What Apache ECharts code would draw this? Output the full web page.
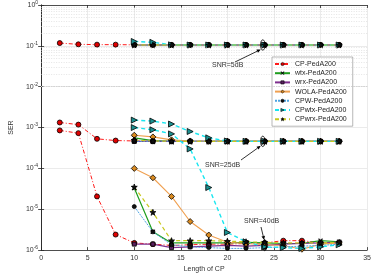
<!DOCTYPE html>
<html><head><meta charset="utf-8">
<script src="https://cdn.jsdelivr.net/npm/echarts@6/dist/echarts.min.js"></script>
<style>html,body{margin:0;padding:0;background:#fff}#c{width:374px;height:278px}</style>
</head><body><div id="c"></div>
<script>
// ---- data ----
const xCP = [2,4,6,8,10,12,14,16,18,20,22,24,26,28,30,32];
const x10 = [10,12,14,16,18,20,22,24,26,28,30,32];
const xTicks = [0,5,10,15,20,25,30,35];
const yTicks = [1e-6,1e-5,1e-4,1e-3,1e-2,1e-1,1];
const seriesNames = ['CP-PedA200','wtx-PedA200','wrx-PedA200','WOLA-PedA200','CPW-PedA200','CPwtx-PedA200','CPwrx-PedA200'];
const snrLabels = ['SNR=5dB','SNR=25dB','SNR=40dB'];

// SNR = 5 dB
const cp5    = [0.117,0.109,0.107,0.107,0.106,0.105,0.105,0.105,0.105,0.105,0.105,0.105,0.105,0.105,0.105,0.105];
const wtx5   = [0.105,0.105,0.105,0.105,0.105,0.105,0.105,0.105,0.105,0.105,0.105,0.105];
const wrx5   = [0.105,0.105,0.105,0.105,0.105,0.105,0.105,0.105,0.105,0.105,0.105,0.105];
const wola5  = [0.106,0.105,0.105,0.105,0.105,0.105,0.105,0.105,0.105,0.105,0.105,0.105];
const cpw5   = [0.105,0.105,0.105,0.105,0.105,0.105,0.105,0.105,0.105,0.105,0.105,0.105];
const cpwtx5 = [0.128,0.122,0.106,0.105,0.105,0.105,0.105,0.105,0.105,0.105,0.105,0.105];
const cpwrx5 = [0.105,0.105,0.105,0.105,0.105,0.105,0.105,0.105,0.105,0.105,0.105,0.105];

// SNR = 25 dB
const cp25    = [1.33e-3,1.18e-3,5.3e-4,4.8e-4,4.7e-4,4.6e-4,4.6e-4,4.6e-4,4.6e-4,4.6e-4,4.6e-4,4.6e-4,4.6e-4,4.6e-4,4.6e-4,4.6e-4];
const wtx25   = [5.6e-4,4.8e-4,4.6e-4,4.6e-4,4.6e-4,4.6e-4,4.6e-4,4.6e-4,4.6e-4,4.6e-4,4.6e-4,4.6e-4];
const wrx25   = [4.6e-4,4.6e-4,4.6e-4,4.6e-4,4.6e-4,4.6e-4,4.6e-4,4.6e-4,4.6e-4,4.6e-4,4.6e-4,4.6e-4];
const wola25  = [6.5e-4,5.9e-4,5.0e-4,4.7e-4,4.6e-4,4.6e-4,4.6e-4,4.6e-4,4.6e-4,4.6e-4,4.6e-4,4.6e-4];
const cpw25   = [4.6e-4,4.6e-4,4.6e-4,4.6e-4,4.6e-4,4.6e-4,4.6e-4,4.6e-4,4.6e-4,4.6e-4,4.6e-4,4.6e-4];
const cpwtx25 = [1.52e-3,1.44e-3,1.22e-3,8.0e-4,5.6e-4,4.7e-4,4.6e-4,4.6e-4,4.6e-4,4.6e-4,4.6e-4,4.6e-4];
const cpwrx25 = [4.9e-4,4.7e-4,4.6e-4,4.6e-4,4.6e-4,4.6e-4,4.6e-4,4.6e-4,4.6e-4,4.6e-4,4.6e-4,4.6e-4];

// SNR = 40 dB
const cp40    = [8.5e-4,7.3e-4,2.06e-5,2.4e-6,1.5e-6,1.4e-6,1.3e-6,1.35e-6,1.4e-6,1.4e-6,1.45e-6,1.5e-6,1.7e-6,1.7e-6,1.5e-6,1.5e-6];
const wtx40   = [3.3e-5,2.8e-6,1.5e-6,1.5e-6,1.5e-6,1.5e-6,1.55e-6,1.5e-6,1.45e-6,1.45e-6,1.7e-6,1.6e-6];
const wrx40   = [1.4e-6,1.4e-6,1.15e-6,1.2e-6,1.25e-6,1.3e-6,1.25e-6,1.3e-6,1.4e-6,1.45e-6,1.5e-6,1.55e-6];
const wola40  = [1.0e-4,5.9e-5,2.06e-5,5.0e-6,2.34e-6,1.55e-6,1.45e-6,1.35e-6,1.3e-6,1.05e-6,1.4e-6,1.5e-6];
const cpw40   = [1.16e-5,2.8e-6,1.35e-6,1.2e-6,1.15e-6,1.1e-6,1.1e-6,1.15e-6,1.2e-6,1.25e-6,1.3e-6,1.4e-6];
const cpwtx40 = [1.0e-3,8.8e-4,7.0e-4,3.0e-4,3.4e-5,2.7e-6,1.6e-6,1.2e-6,1.15e-6,1.1e-6,1.2e-6,1.35e-6];
const cpwrx40 = [3.5e-5,8.4e-6,1.7e-6,1.7e-6,1.7e-6,1.65e-6,1.6e-6,1.55e-6,1.5e-6,1.5e-6,1.5e-6,1.55e-6];

const minorGrid = [];
for (let e = -6; e < 0; e++) for (let m = 2; m <= 9; m++) minorGrid.push(m * Math.pow(10, e));

// ---- styles ----
const STAR = 'path://M5,0L6.2,3.6L10,3.6L6.9,5.9L8.1,9.5L5,7.3L1.9,9.5L3.1,5.9L0,3.6L3.8,3.6Z';
const CROSS = 'path://M0,1L1,0L5,4L9,0L10,1L6,5L10,9L9,10L5,6L1,10L0,9L4,5Z';
const TRI = 'path://M0,0L10,5L0,10Z';
const styles = [
  {color:'#ff1a1a', type:[4,2,1,2], width:1, symbol:'circle', size:5, fill:'#e00000'},
  {color:'#1e9e1e', type:'solid', width:1.2, symbol:CROSS, size:4, fill:'#111'},
  {color:'#7e2f8e', type:'solid', width:1.2, symbol:'rect', size:4, fill:'#5a2060'},
  {color:'#f0a050', type:'solid', width:1.1, symbol:'diamond', size:6, fill:'#d98a20'},
  {color:'#4da3e0', type:[2,1], width:1, symbol:'circle', size:4, fill:'#111'},
  {color:'#19e6f0', type:[4,3], width:1.4, symbol:TRI, size:6, fill:'#1a9090'},
  {color:'#c8c81e', type:[4,3], width:1.2, symbol:STAR, size:6, fill:'#111'}
];
const groups = [
  [cp5,wtx5,wrx5,wola5,cpw5,cpwtx5,cpwrx5],
  [cp25,wtx25,wrx25,wola25,cpw25,cpwtx25,cpwrx25],
  [cp40,wtx40,wrx40,wola40,cpw40,cpwtx40,cpwrx40]
];

const series = [];
series.push({
  type:'line', data:[], silent:true, xAxisIndex:0, yAxisIndex:0,
  markLine:{silent:true, symbol:'none', label:{show:false}, animation:false,
    lineStyle:{color:'#d4d4d4', type:[1,1.5], width:0.6},
    data: minorGrid.map(v => ({yAxis:v}))}
});
groups.forEach(g => {
  g.forEach((arr, i) => {
    const st = styles[i];
    const xs = (i === 0) ? xCP : x10;
    series.push({
      name: seriesNames[i], type:'line', xAxisIndex:0, yAxisIndex:0,
      data: arr.map((v, k) => [xs[k], v]),
      symbol: st.symbol, symbolSize: st.size, showAllSymbol:true,
      lineStyle:{color:st.color, type:st.type, width:st.width},
      itemStyle:{color:st.fill, borderColor:'#000', borderWidth:0.8},
      animation:false, z: 3
    });
  });
});

function logLabel(v) {
  const e = Math.round(Math.log10(v));
  return '{b|10}{s|' + e + '}';
}
const axisLineStyle = {color:'#262626', width:0.8};
const labelColor = '#333';
const tf = 'Liberation Sans, Arial, sans-serif';

const chart = echarts.init(document.getElementById('c'), null, {renderer:'canvas'});
chart.setOption({
  animation:false,
  backgroundColor:'#fff',
  grid:{left:24, right:5, top:4, bottom:20, containLabel:false},
  legend:{
    data: seriesNames.map(n => ({name:n, itemStyle:{borderWidth:0.6}})),
    orient:'vertical', left:272, top:57,
    itemWidth:15, itemHeight:4, itemGap:1.2,
    padding:[3,6,3,2],
    backgroundColor:'#fff', borderColor:'#999', borderWidth:0.7,
    textStyle:{fontSize:7, lineHeight:8, color:'#222', fontFamily:tf}
  },
  xAxis:[{
    type:'value', min:xTicks[0], max:xTicks[xTicks.length-1], interval:5,
    name:'Length of CP', nameLocation:'middle', nameGap:13,
    nameTextStyle:{fontSize:7, color:labelColor, fontFamily:tf},
    axisLine:{show:true, lineStyle:axisLineStyle},
    axisTick:{show:true, inside:true, length:3, lineStyle:axisLineStyle},
    axisLabel:{fontSize:7, color:labelColor, margin:4, fontFamily:tf},
    splitLine:{show:true, lineStyle:{color:'#e3e3e3', width:0.7}}
  },{
    type:'value', min:0, max:35, interval:5, position:'top',
    axisLine:{show:true, lineStyle:axisLineStyle},
    axisTick:{show:true, inside:true, length:3, lineStyle:axisLineStyle},
    axisLabel:{show:false}, splitLine:{show:false}
  }],
  yAxis:[{
    type:'log', logBase:10, min:yTicks[0], max:yTicks[yTicks.length-1],
    name:'SER', nameLocation:'middle', nameGap:15,
    nameTextStyle:{fontSize:7, color:labelColor, fontFamily:tf},
    axisLine:{show:true, lineStyle:axisLineStyle},
    axisTick:{show:true, inside:true, length:3, lineStyle:axisLineStyle},
    axisLabel:{margin:3, formatter:logLabel, rich:{
      b:{fontSize:7, color:labelColor, fontFamily:tf},
      s:{fontSize:5, color:labelColor, verticalAlign:'bottom', padding:[0,0,5,0], fontFamily:tf}}},
    splitLine:{show:true, lineStyle:{color:'#e3e3e3', width:0.7}}
  },{
    type:'log', logBase:10, min:1e-6, max:1, position:'right',
    axisLine:{show:true, lineStyle:axisLineStyle},
    axisTick:{show:true, inside:true, length:3, lineStyle:axisLineStyle},
    axisLabel:{show:false}, splitLine:{show:false}
  }],
  series: series
});

// ---- annotations ----
function P(x, y) { return chart.convertToPixel({xAxisIndex:0, yAxisIndex:0}, [x, y]); }
function arrow(x1, y1, x2, y2) {
  const ang = Math.atan2(y2 - y1, x2 - x1), L = 4, W = 1.8;
  const bx = x2 - L * Math.cos(ang), by = y2 - L * Math.sin(ang);
  return [
    {type:'line', shape:{x1:x1, y1:y1, x2:bx, y2:by}, style:{stroke:'#000', lineWidth:0.8}, z:100},
    {type:'polygon', shape:{points:[[x2, y2],[bx - W*Math.sin(ang), by + W*Math.cos(ang)],[bx + W*Math.sin(ang), by - W*Math.cos(ang)]]}, style:{fill:'#000'}, z:100}
  ];
}
const e5 = P(23.8, 0.105), e25 = P(23.8, 4.6e-4), e40 = P(24.0, 1.3e-6);
const g = [];
[e5, e25, e40].forEach(p => g.push({type:'ellipse', shape:{cx:p[0], cy:p[1], rx:2.3, ry:5.2}, style:{fill:'none', stroke:'#000', lineWidth:0.8}, z:100}));
g.push({type:'text', x:212, y:62, style:{text:snrLabels[0], fontSize:7, fill:'#333', fontFamily:tf}, z:100});
g.push({type:'text', x:205, y:162, style:{text:snrLabels[1], fontSize:7, fill:'#333', fontFamily:tf}, z:100});
g.push({type:'text', x:244, y:218, style:{text:snrLabels[2], fontSize:7, fill:'#333', fontFamily:tf}, z:100});
arrow(235, 62, e5[0] - 2, e5[1] + 4.5).forEach(o => g.push(o));
arrow(241, 160, e25[0] - 2, e25[1] + 4.5).forEach(o => g.push(o));
arrow(261, 227, e40[0] - 0.5, e40[1] - 5.5).forEach(o => g.push(o));
chart.setOption({graphic: g});
</script>
</body></html>
